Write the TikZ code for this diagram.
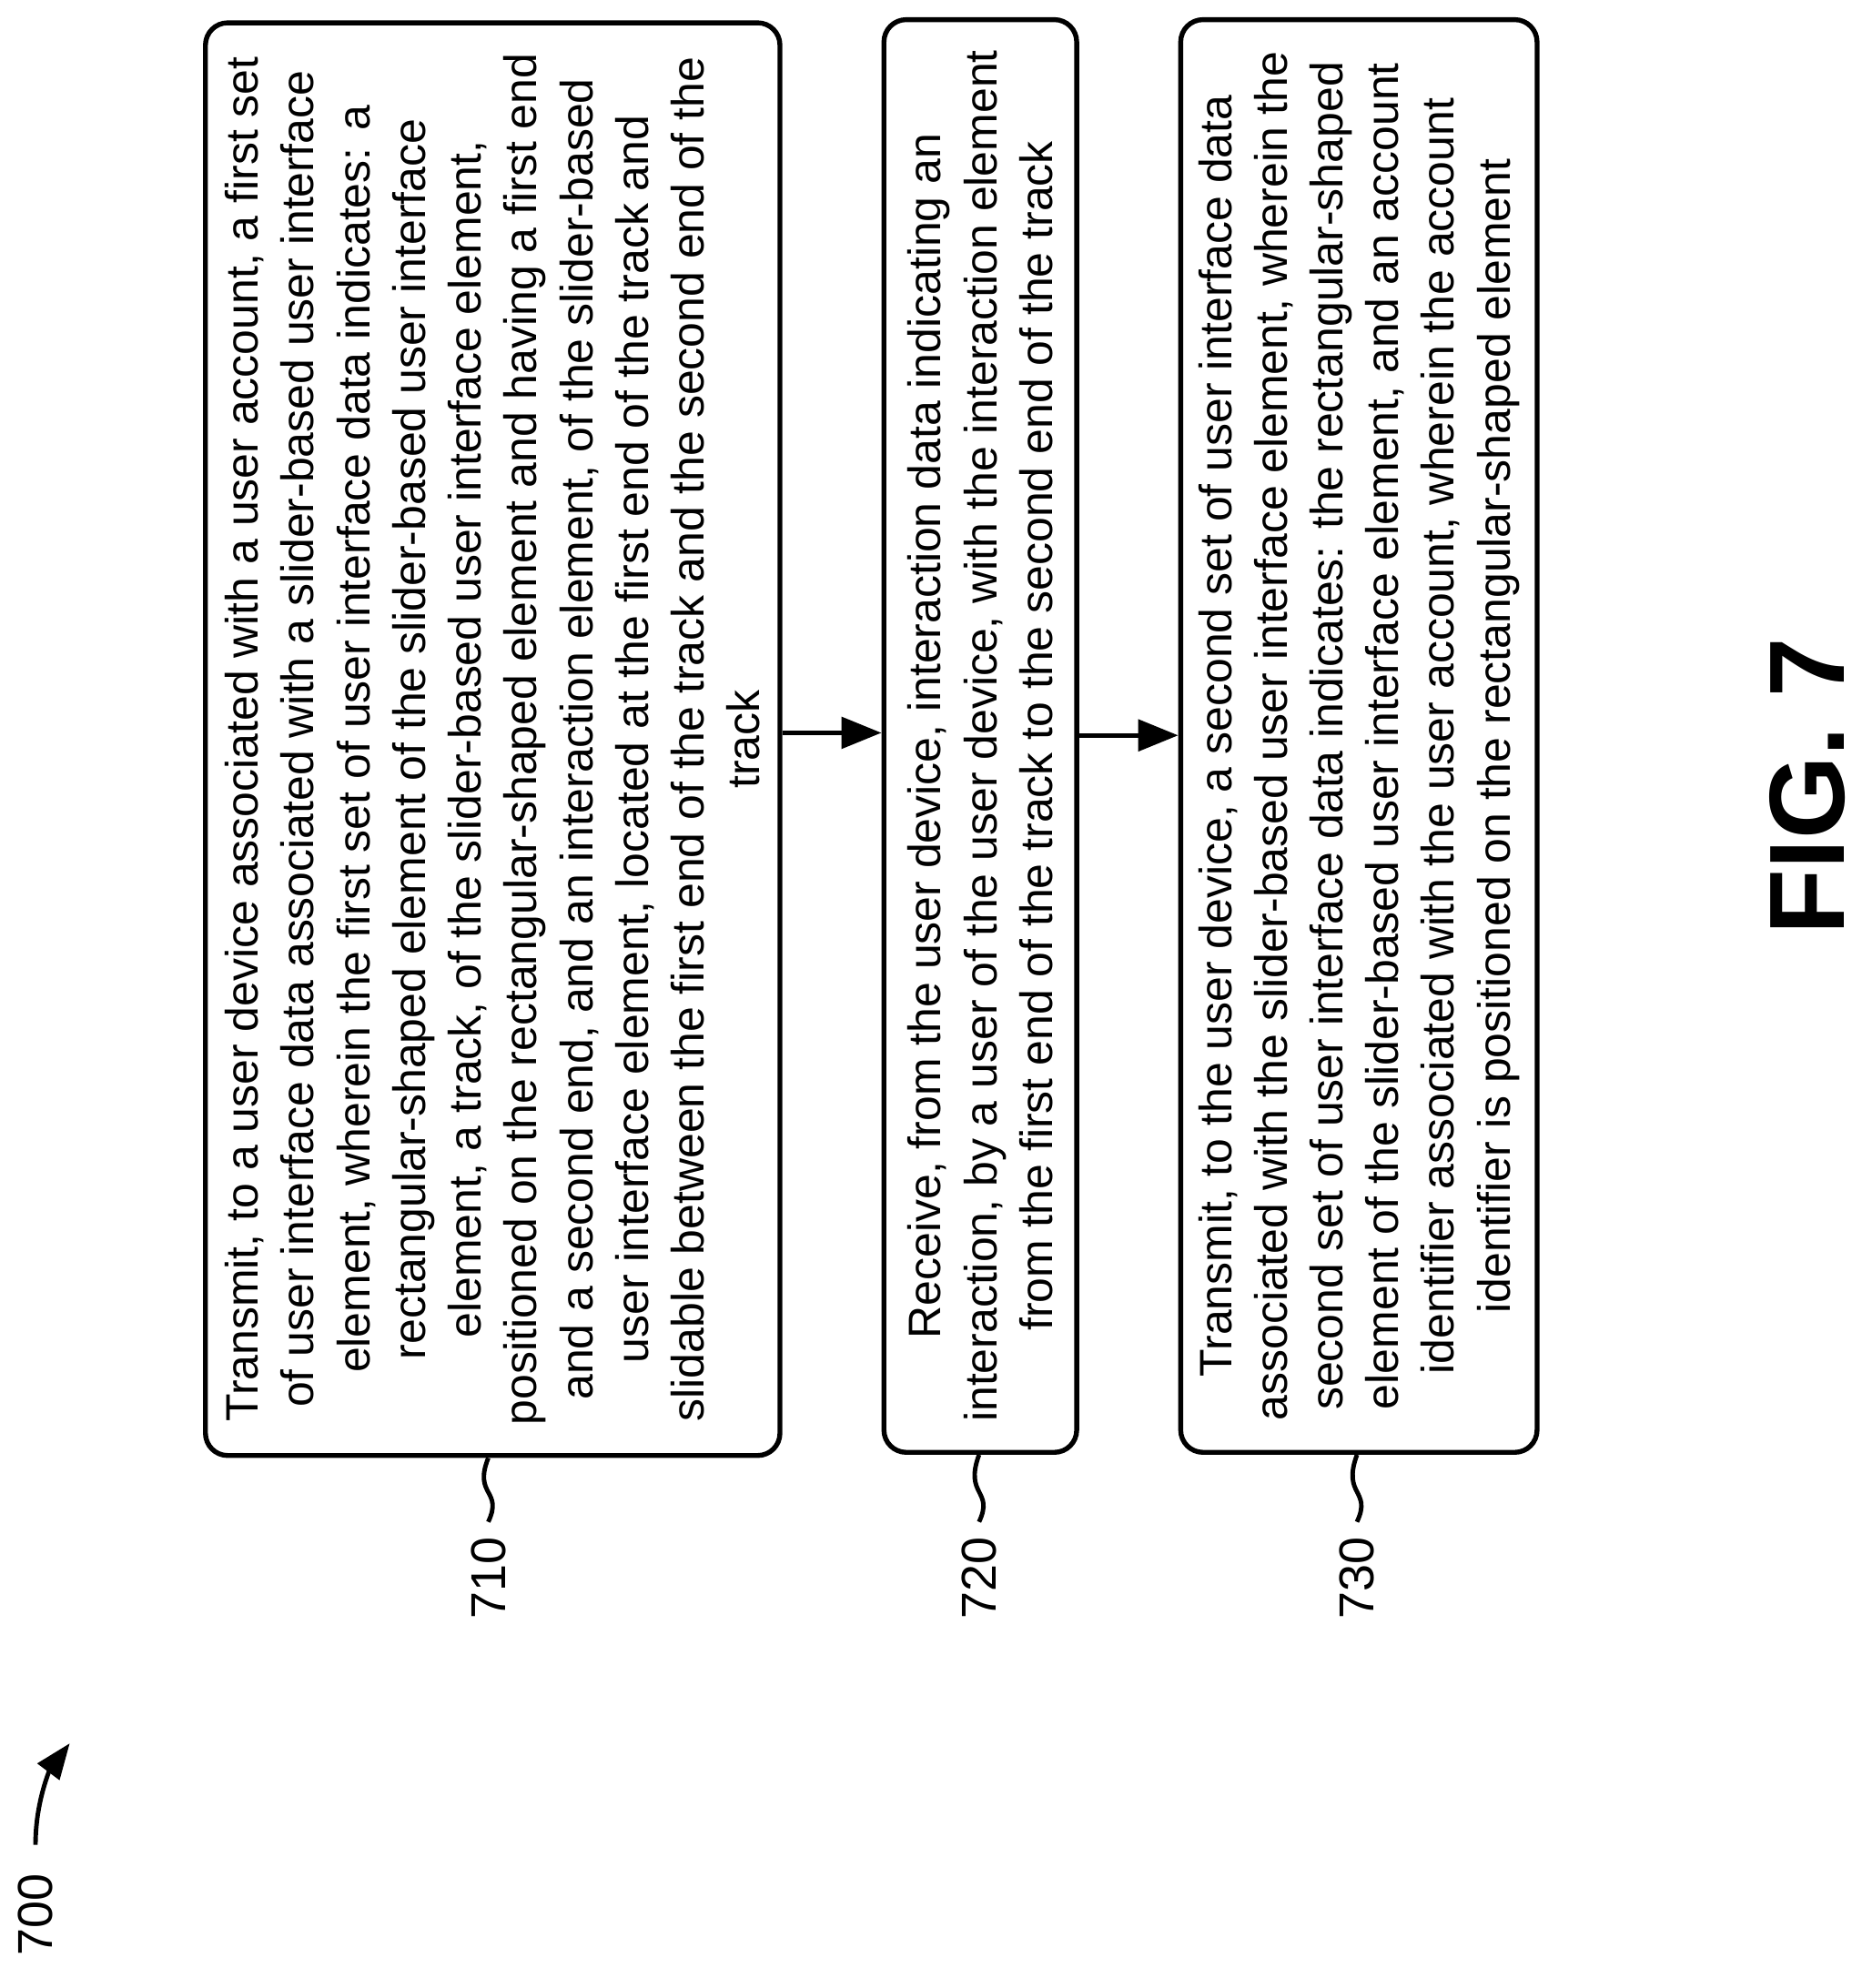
\documentclass[tikz,border=0pt]{standalone}
\usepackage{fontspec}
\setmainfont{Liberation Sans}
\usetikzlibrary{arrows.meta,positioning}

\tikzset{
  stepbox/.style={draw, rounded corners=5pt, line width=1.1pt, minimum height=11.3cm, inner sep=0pt},
  steptext/.style={rotate=90, align=center, font=\fontsize{10.2}{12.5}\selectfont},
  reflabel/.style={rotate=90, font=\fontsize{11}{13}\selectfont},
  flow/.style={-{Triangle[length=9pt,width=7pt]}, line width=1.1pt}
}

\begin{document}
\begin{tikzpicture}
\useasboundingbox (0,0) rectangle (14.6,-15.68);

\node[stepbox, minimum width=4.53cm] (s710) at (3.885,-5.83) {};
\node[stepbox, minimum width=1.52cm] (s720) at (7.73,-5.805) {};
\node[stepbox, minimum width=2.81cm] (s730) at (10.715,-5.805) {};

\node[steptext] (t710) at (s710) {Transmit, to a user device associated with a user account, a first set\\
of user interface data associated with a slider-based user interface\\
element, wherein the first set of user interface data indicates: a\\
rectangular-shaped element of the slider-based user interface\\
element, a track, of the slider-based user interface element,\\
positioned on the rectangular-shaped element and having a first end\\
and a second end, and an interaction element, of the slider-based\\
user interface element, located at the first end of the track and\\
slidable between the first end of the track and the second end of the\\
track};
\node[steptext] (t720) at (s720) {Receive, from the user device, interaction data indicating an\\
interaction, by a user of the user device, with the interaction element\\
from the first end of the track to the second end of the track};
\node[steptext] (t730) at (s730) {Transmit, to the user device, a second set of user interface data\\
associated with the slider-based user interface element, wherein the\\
second set of user interface data indicates: the rectangular-shaped\\
element of the slider-based user interface element, and an account\\
identifier associated with the user account, wherein the account\\
identifier is positioned on the rectangular-shaped element};

\draw[flow] (s710.east |- 0,-5.78) -- (s720.west |- 0,-5.78);
\draw[flow] (s720.east |- 0,-5.8) -- (s730.west |- 0,-5.8);

% step labels
\foreach \n/\x in {710/3.85,720/7.72,730/10.7}{
  \node[reflabel] (l\n) at (\x,-12.45) {\n};
  \draw[line width=1pt] (l\n.east) .. controls (\x+0.12,-11.75) and (\x-0.12,-11.8) .. (s\n.south -| \x,0);
}

\node[reflabel] (l700) at (0.28,-15.1) {700};
\coordinate (a700) at (0.55,-13.75);
\draw[-{Triangle[length=8pt,width=6pt]}, line width=1pt] (0.28,-14.55) .. controls (0.28,-14.2) and (0.4,-13.95) .. (a700);

\node[rotate=90, font=\bfseries\fontsize{24}{28}\selectfont] (fig) at (14.25,-6.2) {FIG. 7};
\end{tikzpicture}
\end{document}
